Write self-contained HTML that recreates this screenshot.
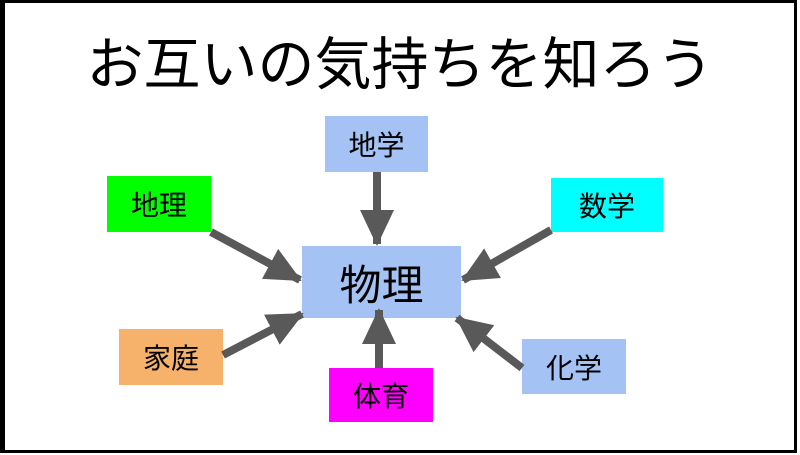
<!DOCTYPE html>
<html><head><meta charset="utf-8"><style>
html,body{margin:0;padding:0;background:#fff}
.wrap{position:relative;width:800px;height:455px;overflow:hidden;font-family:"Liberation Sans","Noto Sans CJK JP",sans-serif}
.frame{position:absolute;left:0;top:0;width:797px;height:453px;border-left:5px solid #000;border-top:3px solid #000;border-right:3px solid #000;border-bottom:3px solid #000;box-sizing:border-box}
.t{position:absolute;left:0;width:800px;top:30px;text-align:center;font-size:57px;line-height:70px;color:#000}
.b{position:absolute;display:flex;align-items:center;justify-content:center;font-size:28px;color:#000}
svg{position:absolute;left:0;top:0}
</style></head><body><div class="wrap">
<div class="frame"></div>
<div class="t">お互いの気持ちを知ろう</div>
<div class="b" style="left:325px;top:116px;width:103px;height:56px;background:#a4c2f4">地学</div>
<div class="b" style="left:107px;top:176px;width:104px;height:56px;background:#00ff00">地理</div>
<div class="b" style="left:551px;top:178px;width:112px;height:54px;background:#00ffff">数学</div>
<div class="b" style="left:302px;top:246px;width:159px;height:72px;background:#a4c2f4;font-size:42px">物理</div>
<div class="b" style="left:522px;top:339px;width:104px;height:55px;background:#a4c2f4">化学</div>
<div class="b" style="left:119px;top:329px;width:104px;height:56px;background:#f6b26b">家庭</div>
<div class="b" style="left:329px;top:368px;width:104px;height:54px;background:#ff00ff">体育</div>
<svg width="800" height="455">
<defs><marker id="a" markerUnits="userSpaceOnUse" markerWidth="36" markerHeight="34" refX="34" refY="17" orient="auto"><path d="M0,0 L36,17 L0,34 Z" fill="#595959"/></marker></defs>
<g stroke="#595959" stroke-width="8" fill="none" marker-end="url(#a)">
<line x1="377" y1="172" x2="377" y2="244"/>
<line x1="211" y1="232" x2="300" y2="280"/>
<line x1="551" y1="230" x2="463" y2="280"/>
<line x1="522" y1="368" x2="457" y2="318"/>
<line x1="223" y1="355" x2="302" y2="314"/>
<line x1="379" y1="368" x2="379" y2="310"/>
</g></svg>
</div></body></html>
